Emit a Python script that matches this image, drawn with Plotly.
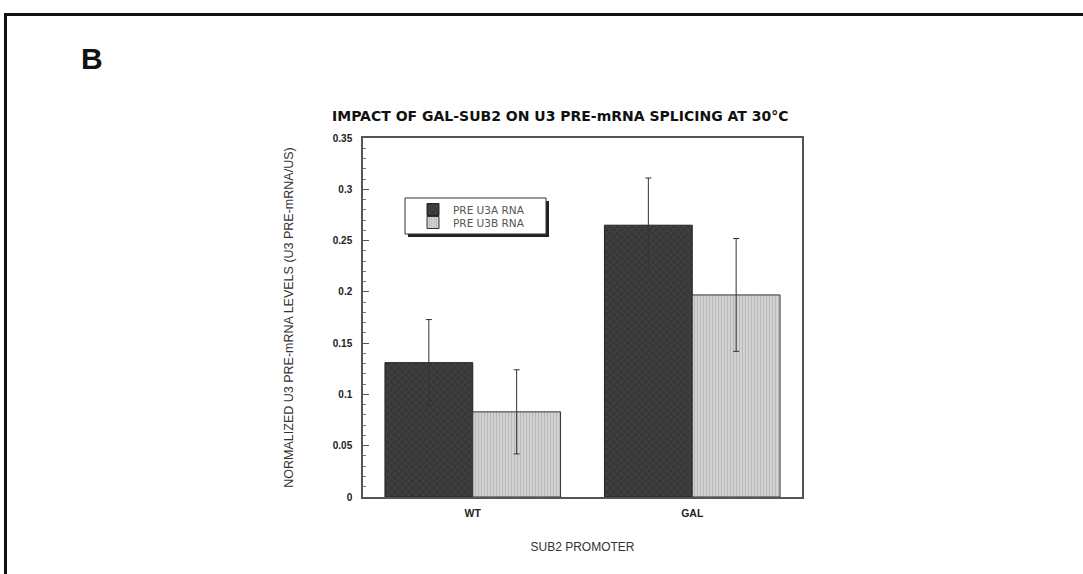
import plotly.graph_objects as go

categories = ["WT", "GAL"]
series_names = ["PRE U3A RNA", "PRE U3B RNA"]
u3a_values = [0.131, 0.265]
u3a_errors = [0.042, 0.046]
u3b_values = [0.083, 0.197]
u3b_errors = [0.041, 0.055]
y_ticks = [0, 0.05, 0.1, 0.15, 0.2, 0.25, 0.3, 0.35]
y_tick_labels = ["0", "0.05", "0.1", "0.15", "0.2", "0.25", "0.3", "0.35"]

W, H = 1083, 574
L, R, T, B = 363, 802, 138, 497  # plot area in screen pixels
pw, ph = R - L, B - T


def px(x):
    return (x - L) / pw


def py(y):
    return (B - y) / ph


fig = go.Figure()
fig.add_trace(go.Bar(
    name=series_names[0], x=categories, y=u3a_values, legend="legend",
    error_y=dict(type="data", array=u3a_errors, color="#333333", thickness=1, width=3),
    marker=dict(color="#3c3c3c", line=dict(color="#222222", width=1),
                pattern=dict(shape="x", fgcolor="#555555", bgcolor="#383838", size=5, solidity=0.3)),
))
fig.add_trace(go.Bar(
    name=series_names[1], x=categories, y=u3b_values, legend="legend2",
    error_y=dict(type="data", array=u3b_errors, color="#333333", thickness=1, width=3),
    marker=dict(color="#c6c6c6", line=dict(color="#333333", width=1),
                pattern=dict(shape="|", fgcolor="#9a9a9a", bgcolor="#d2d2d2", size=3, solidity=0.3)),
))

font = "Liberation Sans, Arial, sans-serif"
legfont = dict(family="DejaVu Sans, sans-serif", size=10.5, color="#555555")

fig.update_layout(
    width=W, height=H,
    margin=dict(l=L, r=W - R, t=T, b=H - B, pad=0),
    paper_bgcolor="white", plot_bgcolor="white",
    barmode="group", bargap=0.2, bargroupgap=0,
    showlegend=True,
    legend=dict(x=px(413), y=py(209.5), xanchor="left", yanchor="middle",
                bgcolor="rgba(0,0,0,0)", borderwidth=0, font=legfont),
    legend2=dict(x=px(413), y=py(222.5), xanchor="left", yanchor="middle",
                 bgcolor="rgba(0,0,0,0)", borderwidth=0, font=legfont),
    font=dict(family=font, color="#222222"),
)

fig.update_xaxes(
    range=[-0.5, 1.5], showline=True, linecolor="#555555", linewidth=1.5, mirror=True,
    ticks="", tickfont=dict(family=font, size=10.5, color="#222222", weight="bold"),
    ticklabelstandoff=6,
    title=dict(text="SUB2 PROMOTER", font=dict(family=font, size=12, color="#333333"), standoff=24),
)
fig.update_yaxes(
    range=[0, 0.35], tickvals=y_ticks, ticktext=y_tick_labels,
    showline=True, linecolor="#555555", linewidth=1.5, mirror=True,
    ticks="inside", ticklen=6, tickcolor="#555555", tickwidth=1,
    minor=dict(dtick=0.01, ticks="inside", ticklen=3, tickcolor="#777777", tickwidth=1),
    showgrid=False, zeroline=False,
    tickfont=dict(family=font, size=10, color="#222222", weight="bold"),
    ticklabelstandoff=7,
    title=dict(text="NORMALIZED U3 PRE-mRNA LEVELS (U3 PRE-mRNA/US)",
               font=dict(family=font, size=12.5, color="#333333"), standoff=36),
)

# legend box with shadow
fig.add_shape(type="rect", xref="paper", yref="paper",
              x0=px(408), x1=px(549), y0=py(237), y1=py(201),
              fillcolor="#222222", line=dict(width=0), layer="above")
fig.add_shape(type="rect", xref="paper", yref="paper",
              x0=px(405), x1=px(546), y0=py(234), y1=py(198),
              fillcolor="white", line=dict(color="#333333", width=1), layer="above")

# outer frame
fig.add_shape(type="line", xref="paper", yref="paper",
              x0=px(4), x1=px(1100), y0=py(14.5), y1=py(14.5),
              line=dict(color="#111111", width=3))
fig.add_shape(type="line", xref="paper", yref="paper",
              x0=px(5.5), x1=px(5.5), y0=py(13), y1=py(600),
              line=dict(color="#111111", width=3))

fig.add_annotation(text="B", xref="paper", yref="paper", x=px(79), y=py(58),
                   xanchor="left", yanchor="middle", showarrow=False,
                   font=dict(family=font, size=30, color="#111111", weight="bold"))
fig.add_annotation(text="IMPACT OF GAL-SUB2 ON U3 PRE-mRNA SPLICING AT 30°C",
                   xref="paper", yref="paper", x=px(560), y=py(116),
                   xanchor="center", yanchor="middle", showarrow=False,
                   font=dict(family="DejaVu Sans, sans-serif", size=14, color="#111111", weight="bold"))

fig.write_html("out.html", config={"displayModeBar": False},
               post_script="document.body.style.margin='0';")
